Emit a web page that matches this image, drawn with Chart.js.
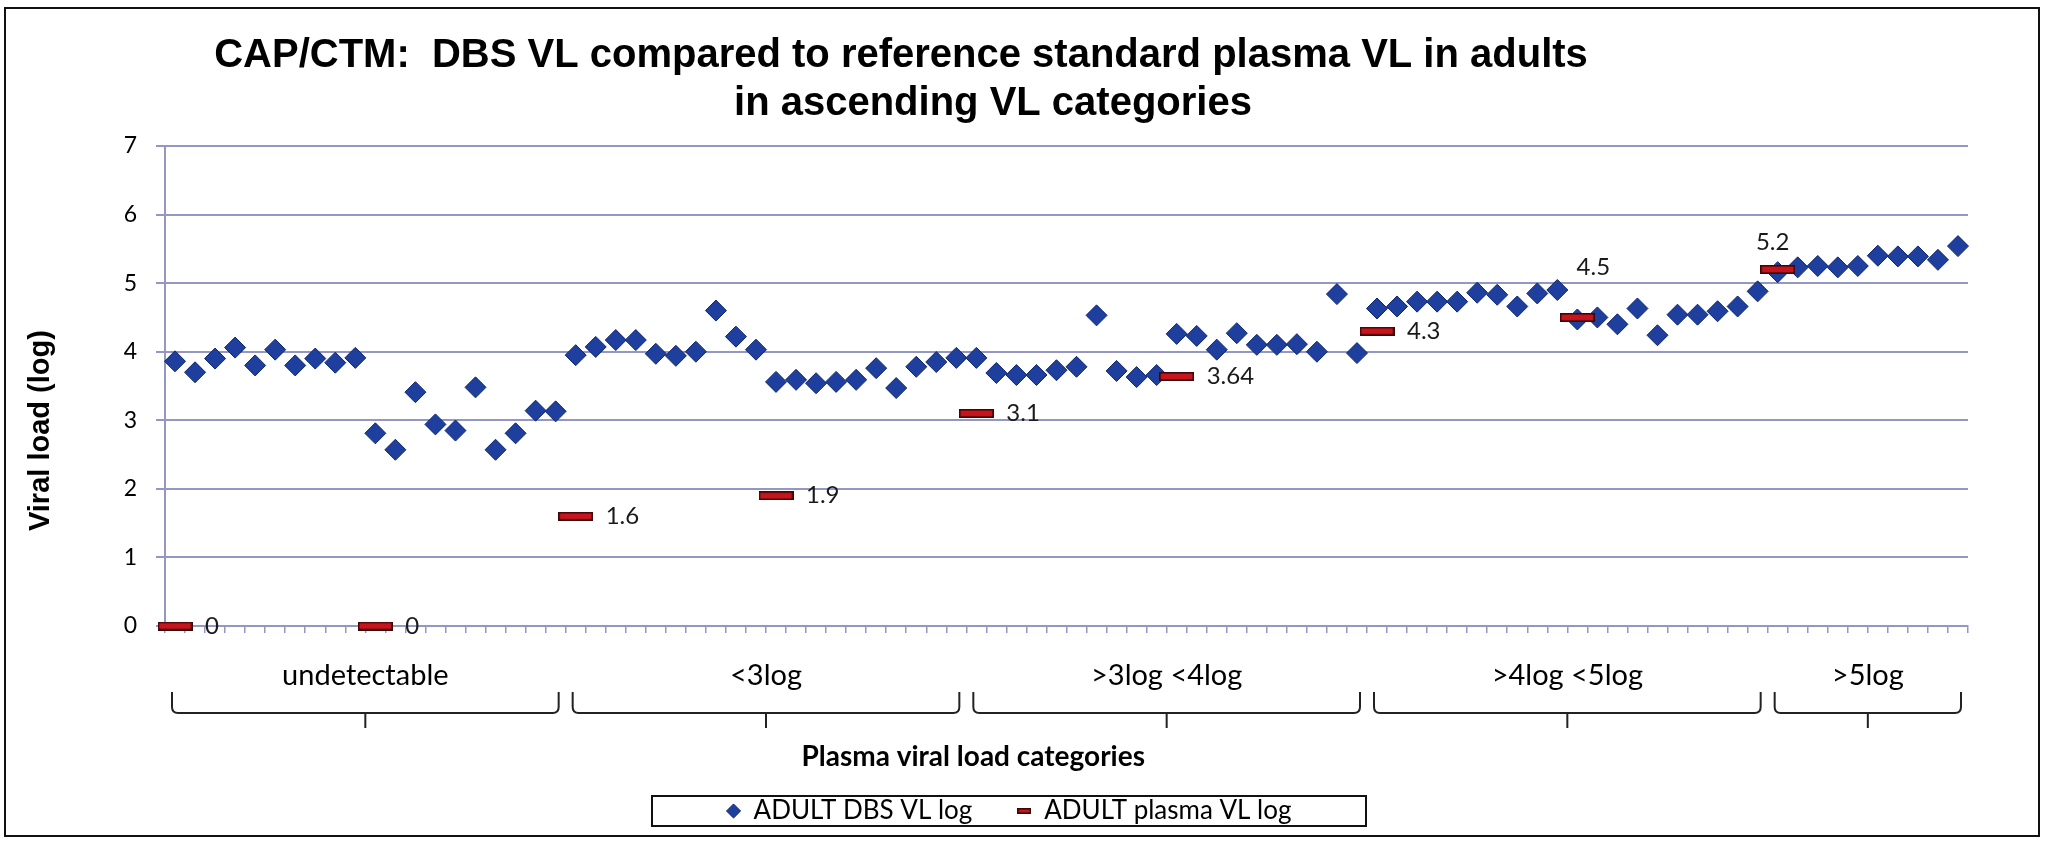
<!DOCTYPE html>
<html>
<head>
<meta charset="utf-8">
<script src="https://cdn.jsdelivr.net/npm/chart.js@4.4.1/dist/chart.umd.min.js"></script>
<style>
  html, body { margin: 0; padding: 0; background: #fff; }
  #frame { position: absolute; left: 4px; top: 7px; width: 2032px; height: 826px; border: 2px solid #111; }
</style>
</head>
<body>
<div id="frame"><canvas id="vl_chart"></canvas></div>
<script>
// groups of samples, left to right
var groupNames = ['undetectable', '<3log', '>3log <4log', '>4log <5log', '>5log'];
var groupSizes = [20, 20, 20, 20, 10];

// DBS viral load (log), one value per sample
var dbsLog = [
    3.86, 3.70, 3.90, 4.06, 3.80, 4.03, 3.80, 3.90, 3.84, 3.91,
    2.81, 2.57, 3.41, 2.94, 2.85, 3.48, 2.57, 2.81, 3.14, 3.13,
    3.95, 4.07, 4.17, 4.17, 3.97, 3.94, 4.00, 4.60, 4.22, 4.03,
    3.56, 3.59, 3.54, 3.56, 3.59, 3.76, 3.47, 3.78, 3.85, 3.91,
    3.91, 3.69, 3.66, 3.66, 3.73, 3.78, 4.53, 3.72, 3.63, 3.66,
    4.26, 4.23, 4.03, 4.27, 4.10, 4.10, 4.11, 4.00, 4.84, 3.98,
    4.63, 4.66, 4.73, 4.73, 4.73, 4.86, 4.83, 4.66, 4.85, 4.90,
    4.47, 4.50, 4.40, 4.63, 4.24, 4.54, 4.54, 4.59, 4.66, 4.88,
    5.16, 5.23, 5.25, 5.23, 5.25, 5.40, 5.39, 5.39, 5.34, 5.54
];

// reference plasma VL (log): sample index and value
var plasmaAt = [0, 10, 20, 30, 40, 50, 60, 70, 80];
var plasmaLog = [0, 0, 1.6, 1.9, 3.1, 3.64, 4.3, 4.5, 5.2];

var yTicks = [0, 1, 2, 3, 4, 5, 6, 7];

var titleLines = ['CAP/CTM:  DBS VL compared to reference standard plasma VL in adults', 'in ascending VL categories'];
var yTitle = 'Viral load (log)';
var xTitle = 'Plasma viral load categories';

// label nudges for the plasma values (style only)
var labelNudge = [[30, 0], [30, 0], [30, 0], [30, 0], [30, 0], [30, 0], [30, 0], [16, -50], [-5, -27]];

var gridColor = '#9496c4';
var titleFont = { family: 'Liberation Sans', size: 40, weight: 'bold', lineHeight: 1.2 };

// build categories / sparse plasma series from the arrays above
var categories = [];
var groupCenters = [];
var pos = 0;
groupNames.forEach(function (name, g) {
    for (var k = 0; k < groupSizes[g]; k++) categories.push(name + ' ' + (k + 1));
    groupCenters.push(pos + (groupSizes[g] - 1) / 2);
    pos += groupSizes[g];
});
var plasmaSeries = categories.map(function () { return null; });
plasmaAt.forEach(function (idx, i) { plasmaSeries[idx] = plasmaLog[i]; });

function makeDash(w, h) {
    var c = document.createElement('canvas');
    c.width = w; c.height = h;
    var g = c.getContext('2d');
    g.fillStyle = '#c8141c';
    g.fillRect(0, 0, w, h);
    g.strokeStyle = '#3a0808';
    g.lineWidth = 1.6;
    g.strokeRect(0.8, 0.8, w - 1.6, h - 1.6);
    return c;
}
var dashBig = makeDash(35, 9);
var dashSmall = makeDash(14, 6);

// shift title line 1 and legend a little, like the hand placed original
var shiftBlocks = {
    id: 'shiftBlocks',
    afterLayout: function (chart) {
        chart.titleBlock.left -= 86;
        chart.titleBlock.right -= 86;
        chart.boxes.forEach(function (b) {
            if (b !== chart.titleBlock && b instanceof Chart.Title._element) {
                b.left += 6;
                b.right += 6;
            }
        });
        chart.legend.left += 22;
        chart.legend.right += 22;
    }
};

var bracePlugin = {
    id: 'groupBraces',
    afterDraw: function (chart) {
        var xs = chart.scales.x, gs = chart.scales.groups, ctx = chart.ctx;
        var half = (xs.getPixelForValue(1) - xs.getPixelForValue(0)) / 2;
        var yTop = gs.top + 59, yMid = gs.top + 80, yBot = gs.top + 95, r = 6;
        ctx.save();
        ctx.strokeStyle = '#222';
        ctx.lineWidth = 2;
        var start = 0;
        groupSizes.forEach(function (n) {
            var x0 = xs.getPixelForValue(start) - half + 7;
            var x1 = xs.getPixelForValue(start + n - 1) + half - 7;
            var xc = (x0 + x1) / 2;
            ctx.beginPath();
            ctx.moveTo(x0, yTop);
            ctx.lineTo(x0, yMid - r);
            ctx.quadraticCurveTo(x0, yMid, x0 + r, yMid);
            ctx.lineTo(x1 - r, yMid);
            ctx.quadraticCurveTo(x1, yMid, x1, yMid - r);
            ctx.lineTo(x1, yTop);
            ctx.moveTo(xc, yMid);
            ctx.lineTo(xc, yBot);
            ctx.stroke();
            start += n;
        });
        // axis titles
        ctx.fillStyle = '#000';
        ctx.textAlign = 'center';
        ctx.textBaseline = 'middle';
        ctx.font = 'bold 28px Lato';
        ctx.fillText(xTitle, chart.width * 0.476, gs.top + 124);
        var ys = chart.scales.y;
        ctx.translate(35, ys.getPixelForValue(2.85));
        ctx.rotate(-Math.PI / 2);
        ctx.font = 'bold 29px "Liberation Sans"';
        ctx.fillText(yTitle, 0, 0);
        ctx.restore();
    }
};

var plasmaLabels = {
    id: 'plasmaLabels',
    afterDatasetsDraw: function (chart) {
        var meta = chart.getDatasetMeta(1), ctx = chart.ctx;
        ctx.save();
        ctx.fillStyle = '#1a1a1a';
        ctx.font = '24px Lato';
        ctx.textBaseline = 'middle';
        plasmaAt.forEach(function (idx, i) {
            var el = meta.data[idx];
            var nd = labelNudge[i];
            ctx.textAlign = nd[1] === 0 ? 'left' : 'center';
            ctx.fillText(String(plasmaLog[i]), el.x + nd[0], el.y + nd[1]);
        });
        ctx.restore();
    }
};

var legendBox = {
    id: 'legendBox',
    afterDraw: function (chart) {
        var boxes = chart.legend.legendHitBoxes, ctx = chart.ctx;
        var l = Math.min.apply(null, boxes.map(function (b) { return b.left; }));
        var r = Math.max.apply(null, boxes.map(function (b) { return b.left + b.width; }));
        var c = (l + r) / 2;
        var t = boxes[0].top + boxes[0].height / 2 - 15;
        ctx.save();
        ctx.strokeStyle = '#111';
        ctx.lineWidth = 2;
        ctx.strokeRect(c - 357, t, 714, 30);
        ctx.restore();
    }
};

new Chart(document.getElementById('vl_chart').getContext('2d'), {
    type: 'line',
    data: {
        labels: categories,
        datasets: [{
            label: 'ADULT DBS VL log',
            data: dbsLog,
            showLine: false,
            clip: false,
            pointStyle: 'rectRot',
            pointRadius: 10.5,
            pointHoverRadius: 10.5,
            pointBorderWidth: 1,
            backgroundColor: '#1f3f9e',
            borderColor: '#10266b',
            order: 1
        }, {
            label: 'ADULT plasma VL log',
            data: plasmaSeries,
            showLine: false,
            clip: false,
            pointStyle: dashBig,
            pointRadius: 18,
            pointHoverRadius: 18,
            backgroundColor: '#c8141c',
            borderColor: '#3a0808',
            order: 0
        }]
    },
    options: {
        responsive: true,
        maintainAspectRatio: false,
        animation: false,
        events: [],
        layout: { padding: { left: 0, right: 70, top: 0, bottom: 1 } },
        plugins: {
            title: {
                display: true,
                text: titleLines[0],
                color: '#000',
                font: titleFont,
                padding: { top: 23, bottom: 0 }
            },
            subtitle: {
                display: true,
                text: titleLines[1],
                color: '#000',
                font: titleFont,
                padding: { top: 0, bottom: 18 }
            },
            legend: {
                position: 'bottom',
                labels: {
                    usePointStyle: true,
                    boxWidth: 14,
                    boxHeight: 10,
                    padding: 45,
                    color: '#000',
                    font: { family: 'Lato', size: 26 },
                    sort: function (a, b) { return a.datasetIndex - b.datasetIndex; },
                    generateLabels: function (chart) {
                        var items = Chart.defaults.plugins.legend.labels.generateLabels(chart);
                        items.forEach(function (it) {
                            it.lineWidth = 1;
                            if (it.datasetIndex === 1) it.pointStyle = dashSmall;
                        });
                        return items;
                    }
                }
            },
            tooltip: { enabled: false }
        },
        scales: {
            x: {
                type: 'category',
                offset: true,
                weight: 0,
                grid: { offset: true, drawOnChartArea: false, tickLength: 7, color: gridColor, lineWidth: 1.5 },
                border: { color: gridColor, width: 2 },
                ticks: { display: false }
            },
            groups: {
                type: 'linear',
                position: 'bottom',
                weight: 1,
                min: -0.5,
                max: categories.length - 0.5,
                grid: { display: false, drawTicks: false },
                border: { display: false },
                afterBuildTicks: function (axis) {
                    axis.ticks = groupCenters.map(function (v) { return { value: v }; });
                },
                afterFit: function (axis) { axis.height = 120; },
                ticks: {
                    autoSkip: false,
                    maxRotation: 0,
                    padding: 25,
                    color: '#000',
                    font: { family: 'Lato', size: 29 },
                    callback: function (v, i) { return groupNames[i]; }
                }
            },
            y: {
                min: 0,
                max: 7,
                afterBuildTicks: function (axis) {
                    axis.ticks = yTicks.map(function (v) { return { value: v }; });
                },
                afterFit: function (axis) { axis.width = 159; },
                grid: { color: gridColor, lineWidth: 2, tickLength: 9 },
                border: { color: gridColor, width: 2 },
                ticks: { padding: 19, color: '#000', font: { family: 'Lato', size: 23 } }
            }
        }
    },
    plugins: [shiftBlocks, bracePlugin, plasmaLabels, legendBox]
});
</script>
</body>
</html>
